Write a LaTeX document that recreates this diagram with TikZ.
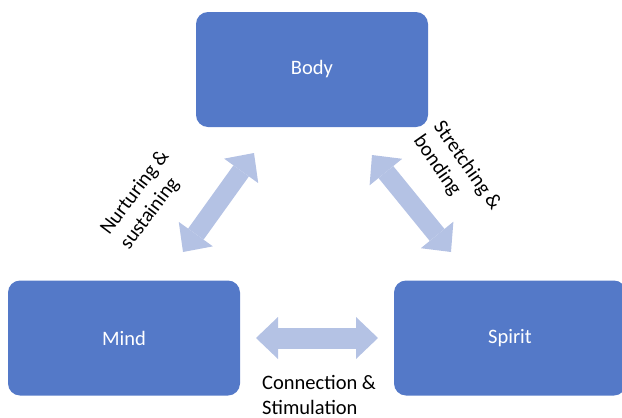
\documentclass[tikz,border=0pt]{standalone}
\usepackage{fontspec}
\setmainfont{Carlito}
\usetikzlibrary{arrows.meta}
\definecolor{boxblue}{RGB}{84,121,200}
\definecolor{arrblue}{RGB}{180,194,228}
\begin{document}
\begin{tikzpicture}[x=1pt,y=-1pt,
  box/.style={fill=boxblue, rounded corners=12pt, minimum width=232pt, minimum height=115pt, inner sep=0pt, text=white, font=\fontsize{20.5}{24.5}\selectfont},
  lbl/.style={align=left, inner sep=0pt, font=\fontsize{20.5}{24.5}\selectfont},
  dbl/.style={draw=arrblue, line width=#1, {Triangle[length=22pt,width=42pt,line width=0pt]}-{Triangle[length=22pt,width=42pt,line width=0pt]}},
  dbl/.default=19pt]
\useasboundingbox (0,0) rectangle (622,418);
\clip (0,0) rectangle (622,418);
\node[box] (body) at (312,69.5) {Body};
\node[box] (mind) at (124,338) {Mind};
\node[box] (spirit) at (510,338) {Spirit};
\coordinate (n1) at (183,252);
\coordinate (n2) at (254,153);
\coordinate (s1) at (372,155);
\coordinate (s2) at (451,252);
\coordinate (c1) at (256,338);
\coordinate (c2) at (378,338);
\draw[dbl] (n1) -- (n2);
\draw[dbl] (s1) -- (s2);
\draw[dbl=21pt] (c1) -- (c2);
\node[lbl, rotate=53] (lnur) at (145,200) {Nurturing \&\\sustaining};
\node[lbl, rotate=-55] (lstr) at (457,173) {Stretching \&\\bonding};
\node[lbl, anchor=west] (lcon) at (262,395) {Connection \&\\Stimulation};
\end{tikzpicture}
\end{document}
